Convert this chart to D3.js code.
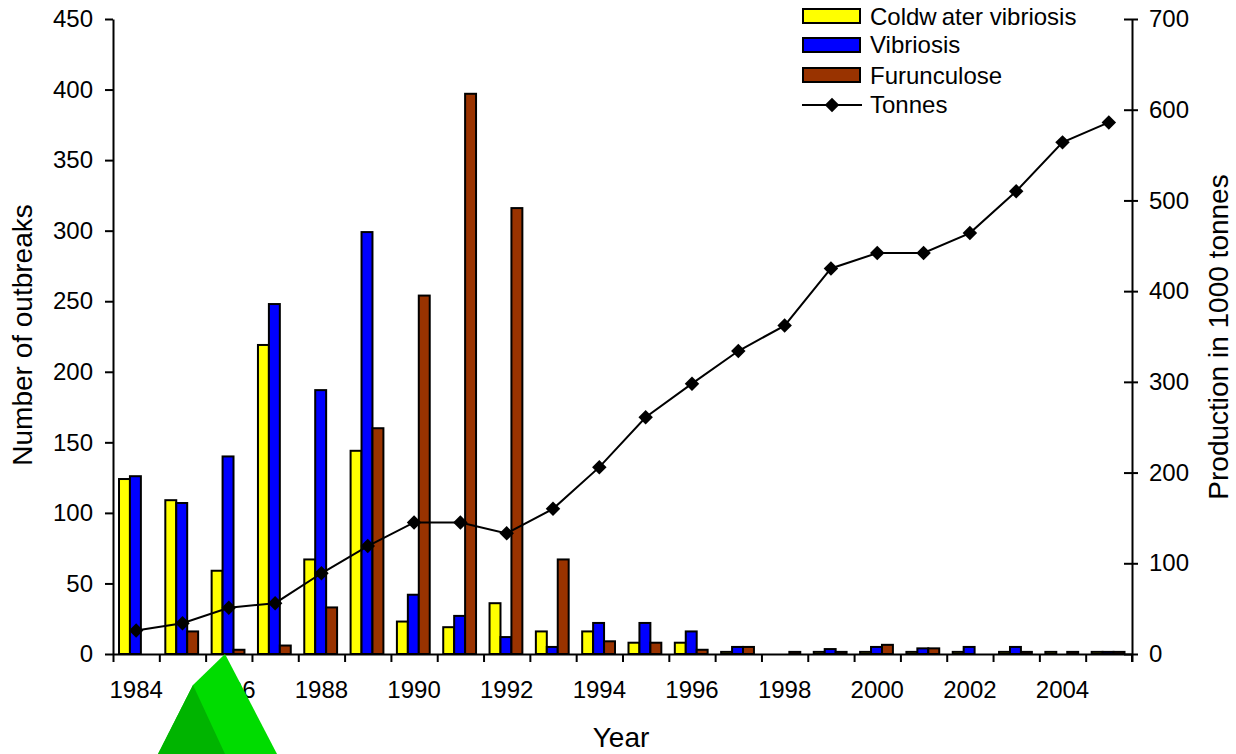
<!DOCTYPE html>
<html>
<head>
<meta charset="utf-8">
<script src="https://cdn.jsdelivr.net/npm/d3@7"></script>
<style>
html, body { margin: 0; padding: 0; background: #fff; }
svg { display: block; }
text { font-family: "Liberation Sans", Arial, sans-serif; fill: #000; }
.axis path, .axis line { stroke: #000; stroke-width: 2px; }
.axis text { font-size: 24px; font-family: "Liberation Sans", Arial, sans-serif; }
</style>
</head>
<body>
<div id="chart"></div>
<script>
var years = [1984,1985,1986,1987,1988,1989,1990,1991,1992,1993,1994,1995,1996,1997,1998,1999,2000,2001,2002,2003,2004,2005];
var coldwater = [124,109,59,219,67,144,23,19,36,16,16,8,8,1.5,0,1.5,1.5,1.5,1.5,1.5,1.5,1.5];
var vibriosis = [126,107,140,248,187,299,42,27,12,5,22,22,16,5,0,3.5,5,4,5,5,0,1.5];
var furunculose = [0,16,3,6,33,160,254,397,316,67,9,8,3,5,1.5,1.5,6.5,4,0,1.5,1.5,1.5];
var tonnes = [26,34,51,56,89,119,145,145,133,160,206,261,298,334,362,425,442,442,464,510,564,586];
var leftTicks = [0,50,100,150,200,250,300,350,400,450];
var rightTicks = [0,100,200,300,400,500,600,700];
var yearLabels = [1984,1986,1988,1990,1992,1994,1996,1998,2000,2002,2004];

var barSeries = [
    {name: "Coldwater vibriosis", values: coldwater, color: "#ffff00"},
    {name: "Vibriosis", values: vibriosis, color: "#0000ff"},
    {name: "Furunculose", values: furunculose, color: "#993300"}
];

var width = 1236, height = 754;
var plotLeft = 113, plotRight = 1132, plotTop = 19, plotBottom = 654;

var svg = d3.select("#chart").append("svg")
    .attr("width", width)
    .attr("height", height);

var x = d3.scaleBand().domain(years).range([plotLeft, plotRight]);
var xEdge = d3.scaleLinear().domain([0, years.length]).range([plotLeft, plotRight]);
var yLeft = d3.scaleLinear().domain([0, 450]).range([plotBottom, plotTop]);
var yRight = d3.scaleLinear().domain([0, 700]).range([plotBottom, plotTop]);

var groupInner = d3.scaleBand().domain([0, 1, 2]).range([6, x.bandwidth() - 7.5]);

// bars
barSeries.forEach(function(s, i){
    svg.append("g").selectAll("rect")
        .data(s.values)
        .enter()
        .append("rect")
        .attr("x", function(d, j){ return x(years[j]) + groupInner(i); })
        .attr("y", function(d){ return yLeft(d); })
        .attr("width", groupInner.bandwidth())
        .attr("height", function(d){ return plotBottom - yLeft(d); })
        .attr("fill", s.color)
        .attr("stroke", "#000")
        .attr("stroke-width", 2)
        .style("display", function(d){ return d > 0 ? null : "none"; });
});

// axes
svg.append("g").attr("class", "axis")
    .attr("transform", "translate(0," + plotBottom + ")")
    .call(d3.axisBottom(xEdge).tickValues(d3.range(years.length + 1)).tickFormat("").tickSize(8).tickSizeOuter(0));

svg.append("g").attr("class", "axis")
    .attr("transform", "translate(" + plotLeft + ",0)")
    .call(d3.axisLeft(yLeft).tickValues(leftTicks).tickSize(8).tickSizeOuter(0).tickPadding(12));

var rightAxis = svg.append("g").attr("class", "axis")
    .attr("transform", "translate(" + plotRight + ",0)")
    .call(d3.axisRight(yRight).tickValues(rightTicks).tickSize(6).tickSizeOuter(0).tickPadding(11));
rightAxis.selectAll(".tick line").attr("x1", -8);
rightAxis.append("line")
    .attr("y1", plotBottom).attr("y2", plotBottom + 8);

svg.append("g").selectAll("text")
    .data(yearLabels)
    .enter()
    .append("text")
    .attr("x", function(d){ return x(d) + x.bandwidth() / 2; })
    .attr("y", 698)
    .attr("text-anchor", "middle")
    .attr("font-size", 24)
    .text(function(d){ return d; });

// tonnes line
var line = d3.line()
    .x(function(d, i){ return x(years[i]) + x.bandwidth() / 2; })
    .y(function(d){ return yRight(d); });

svg.append("path")
    .datum(tonnes)
    .attr("d", line)
    .attr("fill", "none")
    .attr("stroke", "#000")
    .attr("stroke-width", 2);

var diamond = d3.symbol().type(d3.symbolSquare).size(105);
svg.append("g").selectAll("path")
    .data(tonnes)
    .enter()
    .append("path")
    .attr("d", diamond)
    .attr("transform", function(d, i){
        return "translate(" + (x(years[i]) + x.bandwidth() / 2) + "," + yRight(d) + ") rotate(45)";
    })
    .attr("fill", "#000");

// titles
svg.append("text")
    .attr("x", 621).attr("y", 747)
    .attr("text-anchor", "middle")
    .attr("font-size", 28)
    .text("Year");
svg.append("text")
    .attr("transform", "translate(32,335) rotate(-90)")
    .attr("text-anchor", "middle")
    .attr("font-size", 28)
    .text("Number of outbreaks");
svg.append("text")
    .attr("transform", "translate(1228,337) rotate(-90)")
    .attr("text-anchor", "middle")
    .attr("font-size", 28)
    .text("Production in 1000 tonnes");

// legend
var legend = svg.append("g");
var legendY = [16, 45, 75];
var legendTextY = [25, 53, 84];
barSeries.forEach(function(s, i){
    legend.append("rect")
        .attr("x", 803).attr("y", legendY[i] - 7)
        .attr("width", 57).attr("height", 14)
        .attr("fill", s.color)
        .attr("stroke", "#000")
        .attr("stroke-width", 2);
    var label = legend.append("text")
        .attr("x", 870).attr("y", legendTextY[i])
        .attr("font-size", 24);
    if (i == 0) {
        label.append("tspan").text("Coldw");
        label.append("tspan").attr("dx", 5).text("ater vibriosis");
    } else {
        label.text(s.name);
    }
});
legend.append("line")
    .attr("x1", 802).attr("x2", 862)
    .attr("y1", 105).attr("y2", 105)
    .attr("stroke", "#000").attr("stroke-width", 2);
legend.append("path")
    .attr("d", diamond)
    .attr("transform", "translate(832,105) rotate(45)")
    .attr("fill", "#000");
legend.append("text")
    .attr("x", 870).attr("y", 113)
    .attr("font-size", 24)
    .text("Tonnes");

// green arrow shape at the bottom
svg.append("path")
    .attr("d", "M225,654L193,685L158,754H277Z")
    .attr("fill", "#00dc00");
svg.append("path")
    .attr("d", "M193,685L158,754H225Z")
    .attr("fill", "#00b400");
</script>
</body>
</html>
